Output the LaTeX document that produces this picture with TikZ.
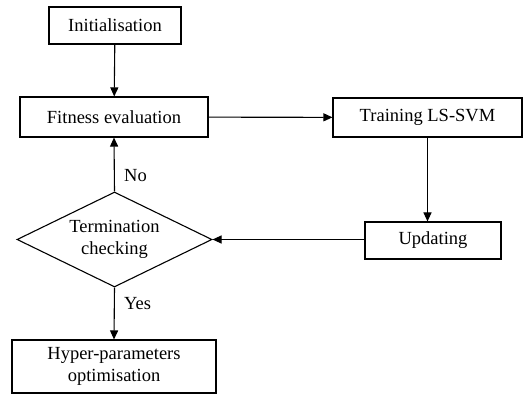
\documentclass[tikz,border=0pt]{standalone}
\usepackage{fontspec}
\setmainfont{Liberation Serif}
\usetikzlibrary{positioning, shapes, arrows.meta}
\tikzstyle{block}=[draw, rectangle, line width=1.1pt, inner sep=0pt, align=center]
\tikzstyle{decision}=[draw, diamond, aspect=2, line width=1.1pt, inner sep=0pt, align=center]
\tikzstyle{flow}=[line width=1.1pt, -{Triangle[length=9pt,width=8pt]}]

\begin{document}
\begin{tikzpicture}[x=1pt, y=-1pt, font=\fontsize{18.5}{22}\selectfont]

		\useasboundingbox (0,0) rectangle (523,406);

		%draw the boxes of the loop
		\node[block, minimum width=132pt, minimum height=37pt] (init) at (115,25.5) {Initialisation};
		\node[block, minimum width=188pt, minimum height=40pt] (fit) at (114,117) {Fitness evaluation};
		\node[block, minimum width=189pt, minimum height=39pt] (train) at (427.5,117.5) {Training LS-SVM};
		\node[block, minimum width=136pt, minimum height=37pt] (upd) at (433,240.5) {Updating};
		\node[decision, minimum width=195pt, minimum height=95pt] (term) at (114.5,239.5) {Termination\\checking};
		\node[block, minimum width=204pt, minimum height=53pt] (hyper) at (114,366.5) {Hyper-parameters\\optimisation};

		%draw the connectors
		\draw[flow] (init) -- (fit);
		\draw[flow] (fit) -- (train);
		\draw[flow] (train.south) -- (train.south |- upd.north);
		\draw[flow] (upd.west |- term.east) -- (term.east);
		\draw[flow] (term.north) -- node[pos=0.3, right=6pt] {No} (fit.south);
		\draw[flow] (term.south) -- node[pos=0.3, right=6pt] {Yes} (hyper.north);

	\end{tikzpicture}
\end{document}
